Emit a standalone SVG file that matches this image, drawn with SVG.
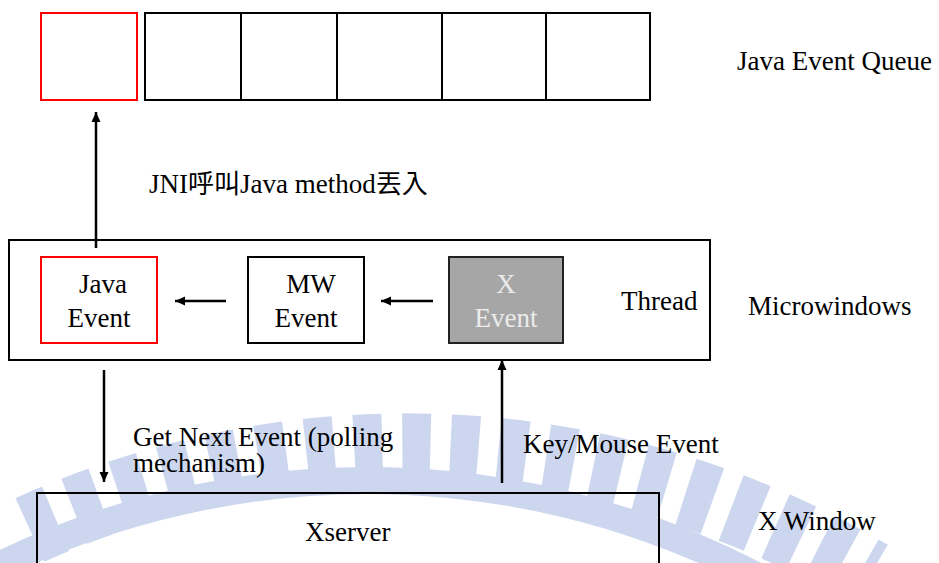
<svg xmlns="http://www.w3.org/2000/svg" width="939" height="563" viewBox="0 0 939 563">
<style>
.box{fill:none;stroke:#000;stroke-width:2}
.red{fill:none;stroke:#ff0000;stroke-width:2}
.grey{fill:#a6a6a6;stroke:#222;stroke-width:2}
.t{font-family:'Liberation Serif','Times New Roman',serif;font-size:27px;fill:#000}
.cjk{font-family:'Noto Sans CJK TC','Noto Sans CJK SC',sans-serif;font-size:26px}
.c{text-anchor:middle}
.lt{fill:#ececec}
.conn{fill:none;stroke:#000;stroke-width:2.5}
.wm{fill:none;stroke:#ccd7ef}
</style>
<defs>
<marker id="ah" markerUnits="userSpaceOnUse" markerWidth="10" markerHeight="10" refX="10" refY="5" orient="auto">
<path d="M0,0.5 L10,5 L0,9.5 z" fill="#000"/>
</marker>
</defs>
<rect width="939" height="563" fill="#fff"/>
<g id="watermark">
<path class="wm" stroke-width="27" d="M-30,580 A843.5,843.5 0 0 1 900,670"/>
<path class="wm" stroke-width="70" stroke-dasharray="28 20" d="M30,530 A910,910 0 0 1 870,575"/>
</g>
<g id="queue">
<rect class="red" x="41" y="13" width="96" height="87"/>
<rect class="box" x="145" y="13" width="505" height="87"/>
<path class="box" d="M241,13V100M337,13V100M442,13V100M546,13V100"/>
<text class="t" x="737" y="70">Java Event Queue</text>
</g>
<g id="microwindows">
<rect class="box" x="9" y="240" width="701" height="120"/>
<text class="t" x="621" y="310">Thread</text>
<text class="t" x="748" y="315">Microwindows</text>
</g>
<g id="java-event">
<rect class="red" x="41" y="257" width="116" height="86"/>
<text class="t c" x="103" y="293">Java</text>
<text class="t c" x="99" y="327">Event</text>
</g>
<g id="mw-event">
<rect class="box" x="248" y="257" width="116" height="86"/>
<text class="t c" x="311" y="293">MW</text>
<text class="t c" x="306" y="327">Event</text>
</g>
<g id="x-event">
<rect class="grey" x="449" y="257" width="114" height="86"/>
<text class="t c lt" x="506" y="293">X</text>
<text class="t c lt" x="506" y="327">Event</text>
</g>
<g id="xserver">
<rect class="box" x="37" y="493" width="622" height="100"/>
<text class="t" x="305" y="541">Xserver</text>
<text class="t" x="758" y="530">X Window</text>
</g>
<g id="connectors">
<path class="conn" d="M96,248 V112" marker-end="url(#ah)"/>
<path class="conn" d="M226,301 H175" marker-end="url(#ah)"/>
<path class="conn" d="M433,301 H381" marker-end="url(#ah)"/>
<path class="conn" d="M104,370 V482" marker-end="url(#ah)"/>
<path class="conn" d="M502,483 V360" marker-end="url(#ah)"/>
<text class="t" x="149" y="193">JNI<tspan class="cjk">呼叫</tspan>Java method<tspan class="cjk">丟入</tspan></text>
<text class="t" x="133" y="446">Get Next Event (polling</text>
<text class="t" x="133" y="472">mechanism)</text>
<text class="t" x="523" y="453">Key/Mouse Event</text>
</g>
</svg>
